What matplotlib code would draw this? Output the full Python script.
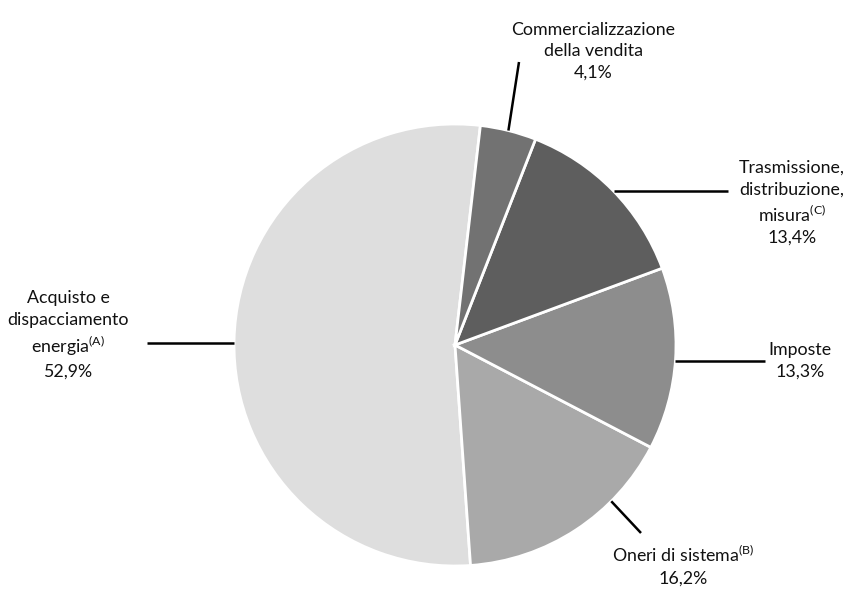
import numpy as np
import matplotlib.pyplot as plt

# quote della spesa (%) - ordine antiorario a partire dall'alto
labels = ['Acquisto e\ndispacciamento\nenergia$\\mathregular{^{(A)}}$',
          'Oneri di sistema$\\mathregular{^{(B)}}$',
          'Imposte',
          'Trasmissione,\ndistribuzione,\nmisura$\\mathregular{^{(C)}}$',
          'Commercializzazione\ndella vendita']
values = [52.9, 16.2, 13.3, 13.4, 4.1]
value_text = ['52,9%', '16,2%', '13,3%', '13,4%', '4,1%']
colors = ['#dedede', '#a9a9a9', '#8d8d8d', '#5e5e5e', '#727272']

plt.rcParams['font.family'] = ['Lato', 'DejaVu Sans']

W, H = 846, 590
fig = plt.figure(figsize=(W / 100, H / 100), dpi=100)
ax = fig.add_axes([0, 0, 1, 1])

cx, cy, R = 455, H - 345, 221
start = 83.4
wedges, _ = ax.pie(values, colors=colors, startangle=start, counterclock=True,
                   center=(cx, cy), radius=R, frame=True,
                   wedgeprops=dict(edgecolor='white', linewidth=2))
ax.set_xlim(0, W)
ax.set_ylim(0, H)
ax.set_aspect('equal')
ax.axis('off')

# leader lines: angle on the pie edge, end point, text anchor (image px)
leader_ang = [None, -45, None, None, None]
horizontal = [True, False, True, True, False]
line_end = [(147, 343), (641, 533), (765, 361), (728, 191), (519, 62)]
text_pos = [(68, 335), (683, 566), (800, 361), (792, 203), (593, 51)]

for i, w in enumerate(wedges):
    a = leader_ang[i]
    if a is None:
        a = (w.theta1 + w.theta2) / 2
    if horizontal[i]:
        ey = H - line_end[i][1]
        sx = cx + np.sqrt(max(R**2 - (ey - cy)**2, 0)) * (1 if line_end[i][0] > cx else -1)
        sy = ey
    else:
        sx = cx + R * np.cos(np.radians(a))
        sy = cy + R * np.sin(np.radians(a))
    ax.plot([sx, line_end[i][0]], [sy, H - line_end[i][1]], color='black', lw=1.8,
            solid_capstyle='butt')
    ax.text(text_pos[i][0], H - text_pos[i][1], labels[i] + '\n' + value_text[i],
            ha='center', va='center', fontsize=12.8, color='#111111',
            linespacing=1.42)

fig.savefig('out.png', dpi=100)
